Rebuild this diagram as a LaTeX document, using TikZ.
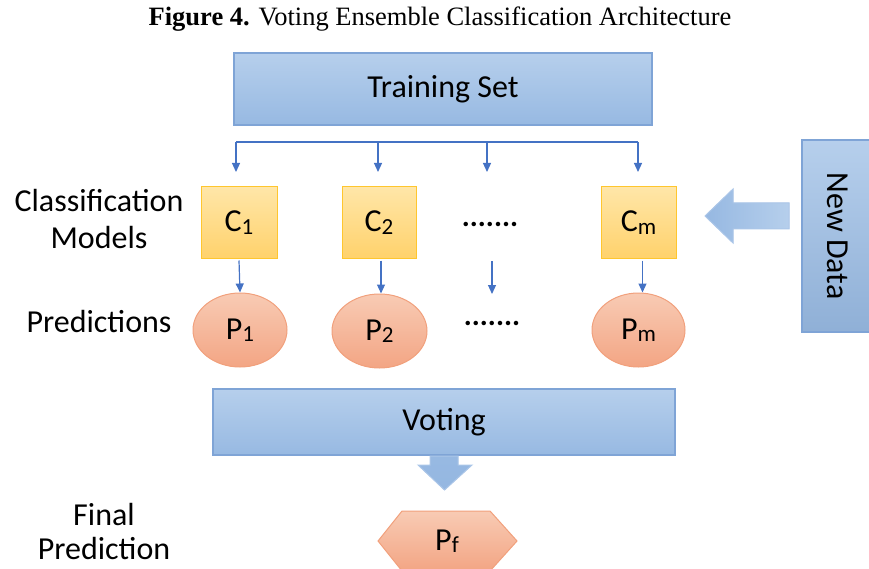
\documentclass[tikz,border=0pt]{standalone}
\usepackage{fontspec}
\setmainfont{Carlito}
\newfontfamily\titlefont{Liberation Serif}
\usetikzlibrary{arrows.meta,calc,shapes.geometric}

\definecolor{blueTop}{HTML}{B6CFEC}
\definecolor{blueBot}{HTML}{97B9E2}
\definecolor{blueLine}{HTML}{7FA4D6}
\definecolor{yelTop}{HTML}{FFE6A8}
\definecolor{yelBot}{HTML}{FFD26C}
\definecolor{yelLine}{HTML}{FFC62E}
\definecolor{salTop}{HTML}{F8CBB4}
\definecolor{salBot}{HTML}{F3A584}
\definecolor{salLine}{HTML}{F1A07C}
\definecolor{linkBlue}{HTML}{4472C4}

\newcommand{\idx}[2]{#1{\fontsize{23}{23}\selectfont\raisebox{-0.1em}{#2}}}

\begin{document}
\begin{tikzpicture}[x=1pt,y=1pt,
  every node/.style={text=black},
  txt/.style={font=\fontsize{32}{37}\selectfont, inner sep=0pt},
  bluebox/.style={draw=blueLine, line width=1.2pt, top color=blueTop, bottom color=blueBot,
    inner sep=0pt, font=\fontsize{32}{32}\selectfont},
  model/.style={draw=yelLine, line width=1pt, top color=yelTop, bottom color=yelBot,
    inner sep=0pt, minimum height=71pt, font=\fontsize{32}{32}\selectfont},
  pred/.style={ellipse, draw=salLine, line width=1pt, top color=salTop, bottom color=salBot,
    inner sep=0pt, minimum width=94pt, minimum height=74pt, font=\fontsize{32}{32}\selectfont},
  link/.style={draw=linkBlue, line width=1.2pt},
  arr/.style={link, -{Triangle[length=9pt,width=8pt]}},
  dots/.style={font=\fontsize{30}{30}\selectfont\bfseries, inner sep=0pt},
  blockarrow/.style={draw=blueTop!80!blueLine, line width=1pt, fill=blueBot!90!blueTop}
]
\useasboundingbox (0,0) rectangle (869,-569);
\clip (0,0) rectangle (869,-569);

% title
\node[inner sep=0pt, font=\titlefont\fontsize{26.5}{30}\selectfont] (title) at (440,-19)
  {\textbf{Figure 4.} Voting Ensemble Classification Architecture};

% training set
\node[bluebox, minimum width=418pt, minimum height=72pt] (train) at (443,-89) {Training Set};

% row labels
\node[txt, align=center] (lblmodels) at (99,-219) {Classification\\Models};
\node[txt] (lblpred) at (99,-322) {Predictions};
\node[txt, align=center, font=\fontsize{32}{34}\selectfont] (lblfinal) at (104,-532) {Final\\Prediction};

% classification models
\node[model, minimum width=76pt] (c1) at (239,-222.5) {\idx{C}{1}};
\node[model, minimum width=74pt] (c2) at (379,-222.5) {\idx{C}{2}};
\node[dots] (cdots) at (490,-224) {.......};
\node[model, minimum width=75pt] (cm) at (638.5,-222.5) {\idx{C}{m}};

% predictions
\node[pred] (p1) at (240,-330) {\idx{P}{1}};
\node[pred, minimum width=95pt] (p2) at (379.5,-331) {\idx{P}{2}};
\node[dots] (pdots) at (492,-323) {.......};
\node[pred, minimum width=93pt] (pm) at (638.5,-330) {\idx{P}{m}};

% distribution bus from the training set
\coordinate (bus1) at (236,-142);
\coordinate (bus2) at (378,-142);
\coordinate (bus3) at (487,-142);
\coordinate (bus4) at (638,-142);
\draw[link] (bus1) -- (bus4);
\draw[arr] (bus1) -- (bus1 |- 0,-172);
\draw[arr] (bus2) -- (bus2 |- 0,-172);
\draw[arr] (bus3) -- (bus3 |- 0,-172);
\draw[arr] (bus4) -- (bus4 |- 0,-172);

% model -> prediction
\draw[arr] ([yshift=-2pt]c1.south) -- (p1.north);
\draw[arr] ([xshift=2pt,yshift=-2pt]c2.south) -- ([xshift=1.5pt]p2.north);
\coordinate (mid1) at (492,-261);
\coordinate (mid2) at (492,-294);
\draw[arr] (mid1) -- (mid2);
\draw[arr] ([xshift=4pt,yshift=-2pt]cm.south) -- ([xshift=4pt]pm.north);

% new data
\node[draw=blueLine, line width=1.2pt, top color=blueTop, bottom color=blueBot!95!black,
  rotate=-90, minimum width=192pt, minimum height=72pt, inner sep=0pt,
  font=\fontsize{32}{32}\selectfont] (newdata) at (838,-236) {New Data};
\path[blockarrow, left color=blueBot!95!blueLine, right color=blueTop]
  (789,-203) -- (733,-203) -- (733,-189) -- (705,-216) -- (733,-243) -- (733,-229) -- (789,-229) -- cycle;

% voting
\node[bluebox, minimum width=462pt, minimum height=66pt] (vote) at (444,-422) {Voting};
\path[blockarrow, top color=blueBot, bottom color=blueBot!90!blueLine]
  (430,-456) -- (430,-465) -- (418,-465) -- (444.5,-490) -- (472,-465) -- (458,-465) -- (458,-456) -- cycle;

% final prediction
\path[draw=salLine, line width=1pt, top color=salTop, bottom color=salBot]
  (378,-541) -- (402,-511) -- (490,-511) -- (517,-541) -- (490,-571) -- (402,-571) -- cycle;
\node[inner sep=0pt, font=\fontsize{32}{32}\selectfont] (pf) at (447,-541) {\idx{P}{f}};
\end{tikzpicture}
\end{document}
